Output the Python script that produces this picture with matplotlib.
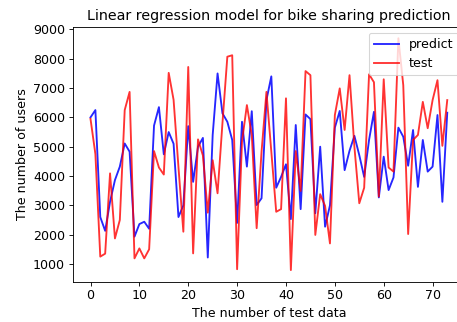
import numpy as np
import matplotlib
matplotlib.use("Agg")
import matplotlib.pyplot as plt

# values (74 test samples)
predict = [
    6000, 6250, 2600, 2130, 3120, 3860, 4320, 5110, 4830, 1930,
    2360, 2440, 2200, 5720, 6350, 4740, 5500, 5100, 2600, 3000,
    5700, 3800, 5000, 5300, 1220, 5400, 7500, 6140, 5850, 5230,
    2400, 5850, 4320, 6210, 3010, 3240, 6590, 7400, 3600, 3970,
    4400, 2530, 5740, 2870, 6100, 5940, 2730, 5000, 2270, 3000,
    5650, 6220, 4200, 4860, 5370, 4710, 3970, 5230, 6190, 3270,
    4660, 3520, 3950, 5650, 5340, 4350, 5570, 3630, 5230, 4150,
    4320, 6080, 3120, 6160,
]
test = [
    5950, 4750, 1250, 1350, 4090, 1870, 2500, 6250, 6870, 1190,
    1530, 1190, 1500, 4850, 4290, 4050, 7520, 6600, 4300, 2100,
    7720, 1360, 5250, 4700, 2750, 4540, 3410, 5800, 8070, 8120,
    820, 5170, 6420, 5400, 2220, 4830, 6870, 4830, 2780, 2870,
    6650, 790, 4850, 3490, 7580, 7440, 1990, 3380, 2980, 1700,
    6080, 6990, 5570, 7440, 5000, 3070, 3600, 7470, 7200, 3300,
    7300, 4290, 4150, 8700, 7100, 2020, 5230, 5400, 6530, 5630,
    6590, 7270, 5030, 6590,
]


def main():
    dpi = 79
    plt.rcParams["font.size"] = 11.5
    fig = plt.figure(figsize=(457 / dpi, 322 / dpi), dpi=dpi)
    # the reference is cropped on the right, so the axes run past the edge
    ax = fig.add_axes([0.159, 0.1252, 0.8587, 0.792])

    x = np.arange(len(predict))
    ax.plot(x, predict, color="blue", alpha=0.85, linewidth=1.7, label="predict")
    ax.plot(x, test, color="red", alpha=0.8, linewidth=1.7, label="test")

    ax.set_xticks(np.arange(0, 71, 10))
    ax.set_yticks(np.arange(1000, 9001, 1000))
    ax.set_xlabel("The number of test data")
    ax.set_ylabel("The number of users")
    ax.set_title("Linear regression model for bike sharing prediction", fontsize=13)
    ax.legend(loc="upper right")

    fig.savefig("out.png", dpi=dpi)
    plt.close(fig)


if __name__ == "__main__":
    main()
